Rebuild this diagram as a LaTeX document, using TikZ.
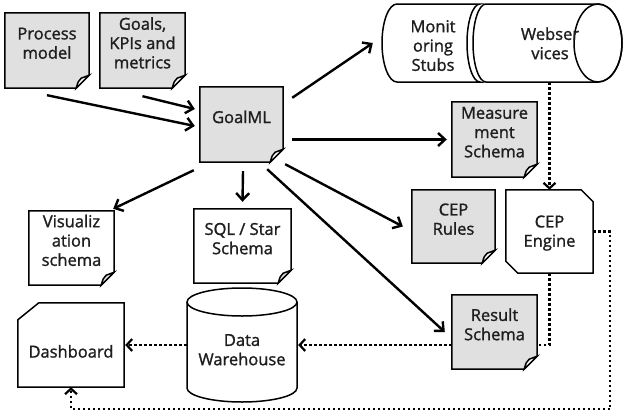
\documentclass[tikz,border=0pt]{standalone}
\usepackage{fontspec}
\setmainfont{Open Sans}[FakeBold=1.3]
\usetikzlibrary{arrows.meta,backgrounds,calc}

\definecolor{docgray}{RGB}{224,224,224}
\definecolor{inkgray}{RGB}{30,30,30}

% centred multi-line label, raised by #1 relative to the node centre
\newcommand\tlab[2]{\raisebox{#1}[0pt][0pt]{$\vcenter{\hbox{\begin{tabular}{@{}c@{}}#2\end{tabular}}}$}}

% document outline with a folded bottom-right corner
\newcommand\docshape[3]{%
  \draw[boxline, fill=#2] (#1.north west) -- (#1.north east)
    -- ([yshift=13pt]#1.south east) -- ([xshift=-13pt]#1.south east)
    -- (#1.south west) -- cycle;
  \draw[boxline, fill=#3] ([yshift=13pt]#1.south east)
    -- ([shift={(-8pt,10pt)}]#1.south east)
    .. controls ([shift={(-11pt,7pt)}]#1.south east) .. ([xshift=-13pt]#1.south east) -- cycle;
}

\tikzset{
  slot/.style={rectangle, inner sep=0pt, draw=none},
  boxline/.style={draw=black, line width=1.5pt, line join=miter},
  flow/.style={draw=black, line width=2.4pt, -{Straight Barb[length=7pt,width=13pt]}},
  feed/.style={draw=black, line width=2.2pt, dash pattern=on 2.4pt off 2.6pt},
  feedarrow/.style={feed, -{Straight Barb[length=5.5pt,width=12pt]}},
}

\begin{document}
\begin{tikzpicture}[x=1pt, y=-1pt, font=\fontsize{16.5}{19.3}\selectfont, text=inkgray]
\useasboundingbox (0,0) rectangle (624,416);

% ---- nodes ----
\node[slot, minimum width=84pt, minimum height=75pt] (proc) at (47,50.5) {\tlab{1pt}{Process\\model}};
\node[slot, minimum width=85pt, minimum height=75pt] (goals) at (142.5,50.5) {\tlab{1pt}{Goals,\\KPIs and\\metrics}};
\node[slot, minimum width=83pt, minimum height=75pt] (goalml) at (241.5,124.5) {\tlab{1pt}{GoalML}};
\node[slot, minimum width=102pt, minimum height=78pt] (mon) at (433,43) {\tlab{-9pt}{Monit\\oring\\Stubs}};
\node[slot, minimum width=144pt, minimum height=78pt] (web) at (550,43) {\tlab{-7pt}{Webser\\vices}};
\node[slot, minimum width=85pt, minimum height=75pt] (meas) at (494.5,139.5) {\tlab{1pt}{Measure\\ment\\Schema}};
\node[slot, minimum width=83pt, minimum height=73pt] (ceprules) at (453.5,226.5) {\tlab{1pt}{CEP\\Rules}};
\node[slot, minimum width=87pt, minimum height=83pt] (cepeng) at (549.5,231.5) {\tlab{-6pt}{CEP\\Engine}};
\node[slot, minimum width=85pt, minimum height=74pt] (vis) at (71.5,248) {\tlab{1pt}{Visualiz\\ation\\schema}};
\node[slot, minimum width=97pt, minimum height=74pt] (sql) at (242.5,246) {\tlab{1pt}{SQL / Star\\Schema}};
\node[slot, minimum width=85pt, minimum height=74pt] (result) at (494.5,332) {\tlab{1pt}{Result\\Schema}};
\node[slot, minimum width=110pt, minimum height=114pt] (dw) at (242,345) {\tlab{-11pt}{Data\\Warehouse}};
\node[slot, minimum width=106pt, minimum height=84pt] (dash) at (71,345) {\tlab{-13pt}{Dashboard}};

% ---- shapes behind the labels ----
\begin{scope}[on background layer]
  \docshape{proc}{docgray}{white}
  \docshape{goals}{docgray}{white}
  \docshape{goalml}{docgray}{white}
  \docshape{meas}{docgray}{white}
  \docshape{ceprules}{docgray}{white}
  \docshape{result}{docgray}{white}
  \docshape{vis}{white}{docgray}
  \docshape{sql}{white}{docgray}

  % monitoring stubs: horizontal drum, partly behind the web services drum
  \draw[boxline, fill=white] (397,4) -- (480,4)
    arc[start angle=90, end angle=270, x radius=13pt, y radius=39pt]
    -- (397,82)
    arc[start angle=270, end angle=90, x radius=15pt, y radius=39pt] -- cycle;
  % web services drum
  \draw[boxline, fill=white] (486,4) -- (598,4)
    arc[start angle=90, end angle=-90, x radius=24pt, y radius=39pt]
    -- (486,82)
    arc[start angle=270, end angle=90, x radius=13pt, y radius=39pt] -- cycle;
  \draw[boxline] (598,43) ellipse[x radius=24pt, y radius=39pt];

  % CEP engine: two chamfered corners
  \draw[boxline, fill=white] (cepeng.north west) -- ([xshift=-12pt]cepeng.north east)
    -- ([yshift=-12pt]cepeng.north east) -- (cepeng.south east)
    -- ([xshift=12pt]cepeng.south west) -- ([yshift=12pt]cepeng.south west) -- cycle;

  % dashboard: one chamfered corner
  \draw[boxline, fill=white] ([xshift=21pt]dash.north west) -- (dash.north east)
    -- (dash.south east) -- (dash.south west) -- ([yshift=-17pt]dash.north west) -- cycle;

  % data warehouse drum
  \draw[boxline, fill=white] (187,302) -- (187,388)
    arc[start angle=180, end angle=360, x radius=55pt, y radius=14pt]
    -- (297,302)
    arc[start angle=0, end angle=180, x radius=55pt, y radius=14pt] -- cycle;
  \draw[boxline] (187,302) arc[start angle=180, end angle=360, x radius=55pt, y radius=14pt];
\end{scope}

% ---- model flows ----
\draw[flow] ([yshift=-7pt]proc.south) -- ([shift={(-5pt,-1.5pt)}]goalml.west);
\draw[flow] ([yshift=-8pt]goals.south) -- ([shift={(-5pt,15.5pt)}]goalml.west);
\draw[flow] ([shift={(9pt,-11pt)}]goalml.north east) -- ([xshift=-9pt]mon.west);
\draw[flow] ($(goalml.east |- meas.west)+(9pt,0)$) -- ([xshift=-5pt]meas.west);
\draw[flow] ([shift={(-6pt,-8pt)}]goalml.south west) -- ([shift={(-1pt,2pt)}]vis.north east);
\draw[flow] ([shift={(1.5pt,-9pt)}]goalml.south) -- ([yshift=7pt]sql.north);
\draw[flow] ([shift={(2pt,-2pt)}]goalml.south east) -- ([xshift=-9pt]ceprules.west);
\draw[flow] ([shift={(-16pt,-7pt)}]goalml.south east) -- ([xshift=-7pt]result.west);

% ---- runtime feeds ----
\draw[feedarrow] (cepeng.north |- web.south) -- (cepeng.north);
\draw[feedarrow] (cepeng.east) -- ++(17,0) |- ([yshift=-22pt]dash.south) -- (dash.south);
\draw[feed] (cepeng.south) |- ([yshift=-13pt]result.east);
\draw[feedarrow] (result.west |- dw.east) -- ([xshift=1pt]dw.east);
\draw[feedarrow] (dw.west) -- ([xshift=1pt]dash.east);
\end{tikzpicture}
\end{document}
